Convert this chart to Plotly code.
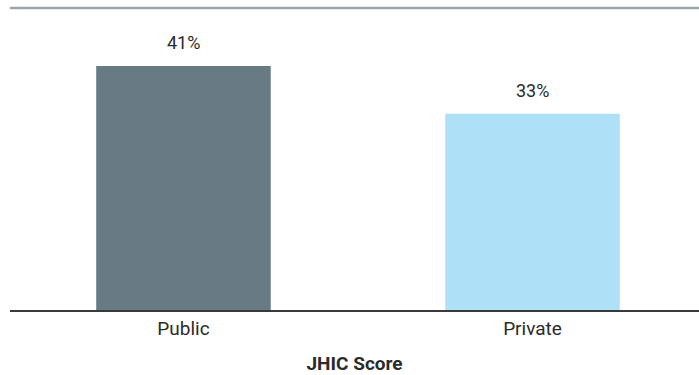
import plotly.graph_objects as go

# JHIC score share by sector
categories = ["Public", "Private"]
values = [41, 33]
labels = ["41%", "33%"]
bar_colors = ["#687a84", "#aee0f7"]

FONT = "Roboto, Arial, sans-serif"

fig = go.Figure(
    go.Bar(
        x=categories,
        y=values,
        marker=dict(color=bar_colors, line=dict(width=0)),
        width=0.5,
        hoverinfo="skip",
    )
)

# value labels above each bar
for cat, val, lab in zip(categories, values, labels):
    fig.add_annotation(
        x=cat, y=val, text=lab, showarrow=False,
        yanchor="bottom", yshift=11,
        font=dict(family=FONT, size=18, color="#2b2b2b"),
    )

# thin rule across the top of the plot area
fig.add_shape(
    type="line", xref="paper", yref="paper",
    x0=0, x1=1, y0=1, y1=1,
    line=dict(color="#9aa5a9", width=2.5),
)

fig.update_layout(
    width=699, height=375,
    margin=dict(l=10, r=0, t=8, b=65),
    paper_bgcolor="white", plot_bgcolor="white",
    showlegend=False,
    bargap=0.5,
    xaxis=dict(
        range=[-0.497, 1.477],
        showline=True, linecolor="#3a3a3a", linewidth=1.5,
        ticks="", showgrid=False,
        tickfont=dict(family=FONT, size=19, color="#2b2b2b"),
        title=dict(
            text="<b>JHIC Score</b>", standoff=20,
            font=dict(family=FONT, size=19, color="#2b2b2b"),
        ),
    ),
    yaxis=dict(
        range=[0, 50.75], visible=False, showgrid=False, zeroline=False,
    ),
)

fig.write_html("out.html")
